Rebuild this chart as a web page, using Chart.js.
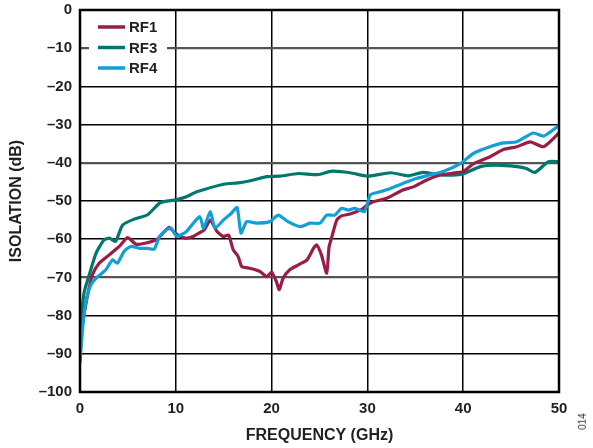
<!DOCTYPE html>
<html>
<head>
<meta charset="utf-8">
<script src="https://cdn.jsdelivr.net/npm/chart.js@4.4.0/dist/chart.umd.min.js"></script>
<style>
  html, body { margin: 0; padding: 0; background: #fff; }
  #wrap { position: relative; width: 593px; height: 448px; }
  #tag {
    position: absolute; left: 574px; top: 416px;
    font: 10px "Liberation Sans", Arial, sans-serif; color: #333;
    transform: rotate(-90deg); transform-origin: center;
  }
</style>
</head>
<body>
<div id="wrap">
  <canvas id="grafico" width="593" height="448"></canvas>
  <div id="tag">014</div>
</div>
<script>
// datos (GHz, dB)
const freqRF1 = [0, 0.28, 0.8, 1.3, 2.0, 3.06, 4.1, 4.97, 5.85, 6.9, 8.1, 9.3, 9.9, 11.0, 11.8, 12.7, 13.0, 13.6, 14.3, 14.96, 15.5, 16.0, 16.5, 16.9, 17.7, 18.3, 18.8, 19.5, 20.0, 20.5, 20.8, 21.2, 21.9, 22.8, 23.7, 24.4, 24.7, 25.2, 25.75, 26.0, 26.3, 26.8, 27.3, 28.2, 29.4, 29.9, 30.6, 32.0, 33.7, 34.8, 36.2, 37.6, 39.5, 40.0, 41.1, 42.8, 44.2, 45.6, 47.0, 48.4, 50];
const isoRF1 = [-85, -81.5, -74.5, -69.3, -66.3, -64.1, -61.9, -59.6, -61.3, -61.0, -59.9, -56.9, -58.4, -59.7, -59.3, -58.0, -57.5, -55.0, -58.0, -59.3, -58.9, -62.8, -64.5, -67.2, -67.6, -68.0, -68.5, -69.8, -68.6, -71.1, -73.2, -70.2, -68.0, -66.7, -65.4, -62.3, -61.5, -64.1, -68.9, -62.0, -59.3, -55.0, -53.9, -53.4, -52.2, -51.2, -50.2, -49.3, -47.1, -46.3, -44.5, -43.2, -42.5, -42.3, -40.2, -38.4, -36.5, -35.8, -34.5, -35.8, -32.2];

const freqRF3 = [0, 0.2, 0.45, 0.97, 1.67, 2.5, 3.06, 3.7, 4.45, 5.7, 7.06, 8.4, 10.0, 11.1, 12.2, 15.0, 16.7, 18.1, 19.5, 20.9, 22.8, 24.8, 26.3, 28.2, 30.1, 32.4, 34.3, 35.8, 37.6, 39.8, 41.8, 43.5, 45.6, 46.6, 47.5, 48.9, 50];
const isoRF3 = [-88, -79, -73.7, -69.3, -63.7, -60.2, -59.7, -60.6, -56.3, -54.7, -53.6, -50.4, -49.7, -48.9, -47.6, -45.6, -45.2, -44.5, -43.6, -43.5, -42.8, -43.1, -42.2, -42.6, -43.5, -42.6, -43.4, -42.5, -43.2, -43.0, -41.0, -40.6, -41.0, -41.5, -42.5, -39.7, -39.7];

const freqRF4 = [0, 0.28, 0.63, 1.15, 1.85, 2.7, 3.4, 3.9, 4.6, 5.3, 6.2, 7.06, 7.75, 8.3, 9.0, 9.5, 10.1, 10.5, 11.1, 12.5, 12.9, 13.6, 14.1, 14.96, 15.8, 16.4, 16.8, 17.4, 18.4, 19.8, 20.7, 21.7, 23.0, 24.0, 25.05, 25.75, 26.6, 27.3, 28.0, 28.7, 29.7, 30.3, 31.3, 32.4, 33.7, 35.1, 36.5, 37.9, 39.7, 41.1, 42.8, 44.2, 45.6, 47.3, 48.4, 50];
const isoRF4 = [-92.4, -83.2, -76.3, -71.9, -69.8, -68.0, -65.4, -66.3, -63.2, -61.9, -62.4, -62.4, -62.6, -59.3, -57.6, -57.1, -59.3, -58.9, -58.0, -54.1, -57.1, -52.8, -57.1, -55.0, -53.2, -51.7, -58.4, -55.4, -55.8, -55.4, -53.7, -55.4, -56.7, -55.8, -55.8, -53.7, -53.7, -51.9, -52.4, -51.9, -52.8, -48.4, -47.6, -46.7, -45.4, -44.1, -43.2, -42.3, -40.2, -37.5, -35.8, -34.8, -34.5, -32.2, -33.0, -30.2];

const series = ['RF1', 'RF3', 'RF4'];
const colores = ['#9a1c47', '#00786c', '#129fd8'];
const xTicks = [0, 10, 20, 30, 40, 50];
const yTicks = [0, -10, -20, -30, -40, -50, -60, -70, -80, -90, -100];
const yTickLabels = ['0', '–10', '–20', '–30', '–40', '–50', '–60', '–70', '–80', '–90', '–100'];

function puntos(fx, fy) {
    return fx.map((f, i) => ({ x: f, y: fy[i] }));
}

const fuente = '"Liberation Sans", Arial, sans-serif';

// leyenda dentro del area y marco
const leyendaMarco = {
    id: 'leyendaMarco',
    afterDraw(chart) {
        const c = chart.ctx;
        const a = chart.chartArea;
        c.save();
        c.fillStyle = '#fff';
        c.fillRect(89, 15, 78, 63);
        series.forEach((s, i) => {
            const y = 27 + i * 20.5;
            c.strokeStyle = colores[i];
            c.lineWidth = 3.5;
            c.beginPath();
            c.moveTo(98, y);
            c.lineTo(125, y);
            c.stroke();
            c.fillStyle = '#231f20';
            c.font = 'bold 15px ' + fuente;
            c.textBaseline = 'middle';
            c.fillText(s, 129, y + 1);
        });
        c.strokeStyle = '#000';
        c.lineWidth = 2.5;
        c.strokeRect(a.left, a.top, a.right - a.left, a.bottom - a.top);
        c.restore();
    }
};

new Chart(document.getElementById('grafico'), {
    type: 'line',
    data: {
        datasets: [
            { label: 'RF1', data: puntos(freqRF1, isoRF1), borderColor: colores[0], order: 2 },
            { label: 'RF3', data: puntos(freqRF3, isoRF3), borderColor: colores[1], order: 3 },
            { label: 'RF4', data: puntos(freqRF4, isoRF4), borderColor: colores[2], order: 1 }
        ]
    },
    options: {
        responsive: false,
        animation: false,
        layout: { padding: { top: 10, right: 34, left: 0, bottom: 0 } },
        elements: {
            point: { radius: 0 },
            line: { borderWidth: 3.2, tension: 0.2, fill: false }
        },
        plugins: {
            legend: { display: false },
            tooltip: { enabled: false }
        },
        scales: {
            x: {
                type: 'linear',
                min: 0, max: 50,
                afterFit: (s) => { s.height = 56; s.paddingLeft = 0; s.paddingRight = 0; },
                afterBuildTicks: (s) => { s.ticks = xTicks.map(v => ({ value: v })); },
                ticks: { color: '#231f20', padding: 8, font: { size: 15, weight: 'bold', family: fuente } },
                grid: { color: '#000', lineWidth: 1.5, drawTicks: false },
                border: { display: false },
                title: {
                    display: true, text: 'FREQUENCY (GHz)', color: '#231f20',
                    padding: { top: 0, bottom: 3 },
                    font: { size: 16, weight: 'bold', family: fuente }
                }
            },
            y: {
                min: -100, max: 0,
                afterFit: (s) => { s.width = 80; s.paddingTop = 0; s.paddingBottom = 0; },
                afterBuildTicks: (s) => { s.ticks = yTicks.map(v => ({ value: v })); },
                ticks: {
                    color: '#231f20', padding: 8,
                    font: { size: 15, weight: 'bold', family: fuente },
                    callback: (v) => yTickLabels[yTicks.indexOf(v)]
                },
                grid: {
                    drawTicks: false,
                    color: (ctx) => [-10, -40, -70].includes(ctx.tick.value) ? '#555' : '#000',
                    lineWidth: (ctx) => [-10, -40, -70].includes(ctx.tick.value) ? 2.2 : 1.5
                },
                border: { display: false },
                title: {
                    display: true, text: 'ISOLATION (dB)', color: '#231f20',
                    padding: { top: 7, bottom: 0 },
                    font: { size: 16, weight: 'bold', family: fuente }
                }
            }
        }
    },
    plugins: [leyendaMarco]
});
</script>
</body>
</html>
